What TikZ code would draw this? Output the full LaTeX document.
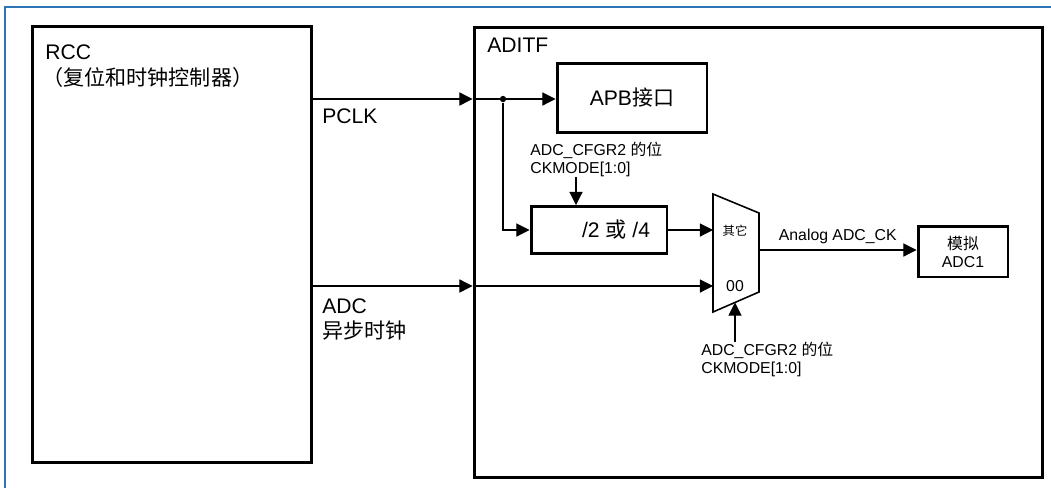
\documentclass[tikz,border=0pt]{standalone}
\usepackage{fontspec}
\setmainfont{Liberation Sans}
\newfontfamily\cjk{Noto Sans CJK SC}
\usetikzlibrary{arrows.meta}
\definecolor{frameblue}{HTML}{2E75B6}

\begin{document}
\begin{tikzpicture}[x=0.02cm,y=-0.02cm,
        blk/.style={draw,line width=1.7pt,inner sep=0pt},
        txt/.style={inner sep=0pt},
        sig/.style={line width=0.6pt},
        arr/.style={sig,-{Triangle[length=7.5pt,width=7.5pt]}},
        big/.style={font=\fontsize{12}{14}\selectfont},
        small/.style={font=\fontsize{9}{10.3}\selectfont}]
        \useasboundingbox (0,0) rectangle (1051,488);
        \draw [frameblue,line width=0.6pt] (5,488) -- (5,7) -- (1051,7);

        % RCC
        \node [blk,minimum width=5.6cm,minimum height=8.74cm] (rcc) at (172,244.5) {};
        \node [big,txt,anchor=west] (rcctxt) at (45,52) {RCC};
        \node [txt,anchor=west,font=\cjk\fontsize{12}{14}\selectfont] (rccsub) at (42,77) {（复位和时钟控制器）};
        \node [big,txt,anchor=west] (pclk) at (322,116) {PCLK};
        \node [big,txt,anchor=west] (adc) at (322,306) {ADC};
        \node [txt,anchor=west,font=\cjk\fontsize{12}{14}\selectfont] (async) at (322,331) {异步时钟};

        % ADITF
        \node [blk,minimum width=11.38cm,minimum height=9.02cm] (aditf) at (758.5,252.5) {};
        \node [big,txt,anchor=west] (aditftxt) at (487,45) {ADITF};
        \node [blk,big,minimum width=3cm,minimum height=1.38cm] (apb) at (632,98) {APB{\cjk 接口}};
        \node [blk,minimum width=2.72cm,minimum height=0.94cm] (div) at (599,230) {};
        \node [big,txt] (divtxt) at (616,230) {/2 {\cjk 或} /4};
        \node [blk,small,minimum width=1.8cm,minimum height=1.02cm,align=center] (adc1) at (963,251.5) {{\cjk 模拟}\\ADC1};
        \node [small,txt,anchor=north west,align=left] (cfga) at (530,142) {ADC\_CFGR2 {\cjk 的位}\\CKMODE[1:0]};
        \node [small,txt,anchor=north west,align=left] (cfgb) at (701,342) {ADC\_CFGR2 {\cjk 的位}\\CKMODE[1:0]};

        % mux
        \draw [line width=0.9pt] (713,194) -- (759,213) -- (759,292) -- (713,312) -- cycle;
        \coordinate (muxA) at (713,230);
        \coordinate (muxB) at (713,286);
        \coordinate (muxout) at (759,250);
        \coordinate (muxsel) at (735,302.5);
        \node [txt,font=\cjk\fontsize{7}{8}\selectfont] (other) at (735,231) {其它};
        \node [small,txt] (zero) at (735,286) {00};

        % clocks
        \node [circle,fill,inner sep=0pt,minimum size=3.6pt] (dot) at (503,99) {};
        \draw [arr] (rcc.east |- dot) -- (aditf.west |- dot);
        \draw [arr] (aditf.west |- dot) -- (apb.west |- dot);
        \draw [arr] (dot) |- (div.west);
        \draw [arr] (cfga.south -| 576,0) -- (div.north -| 576,0);
        \draw [arr] (div.east) -- (muxA);
        \draw [arr] (rcc.east |- muxB) -- (aditf.west |- muxB);
        \draw [arr] (aditf.west |- muxB) -- (muxB);
        \draw [arr] (muxsel |- cfgb.north) -- (muxsel);
        \draw [arr] (muxout) -- (adc1.west |- muxout) node [small,txt,midway,above=3pt] (ack) {Analog ADC\_CK};
    \end{tikzpicture}
\end{document}
